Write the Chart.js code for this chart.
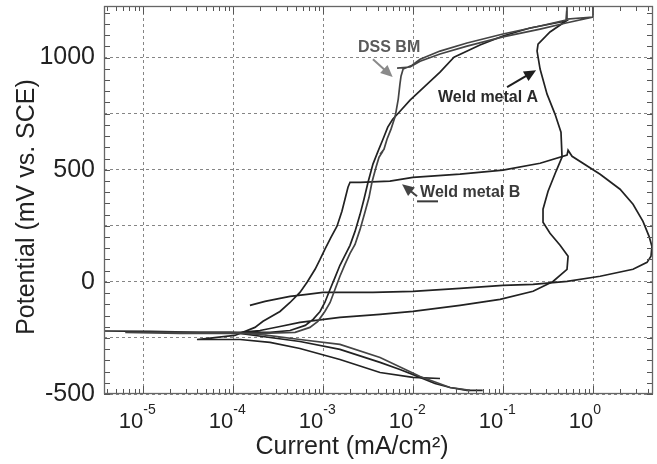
<!DOCTYPE html>
<html>
<head>
<meta charset="utf-8">
<script src="https://cdn.jsdelivr.net/npm/chart.js@4.4.1/dist/chart.umd.min.js"></script>
<style>
  html, body { margin: 0; padding: 0; background: #fff; }
</style>
</head>
<body>
<canvas id="polChart" width="657" height="464"></canvas>
<script>
// values: current in mA/cm², potential in mV vs. SCE
const dssCurrent = [4.27e-2, 2.56e-2, 1.19e-2, 4.27e-3, 1.53e-3, 5.5e-4, 1.98e-4, 9.2e-5, 2.56e-5, 6.3e-6,
  2.56e-5, 9.2e-5, 1.98e-4, 4.86e-4, 7.1e-4, 8.7e-4, 1.04e-3, 1.19e-3, 1.35e-3, 1.53e-3,
  1.74e-3, 1.98e-3, 2.25e-3, 2.56e-3, 2.9e-3, 3.22e-3, 3.47e-3, 3.85e-3, 4.16e-3, 4.6e-3,
  4.27e-3, 4.72e-3, 5.1e-3, 5.65e-3, 6.3e-3, 6.8e-3, 7.1e-3, 7.3e-3, 7.7e-3, 9.7e-3,
  1.19e-2, 1.98e-2, 3.95e-2, 9.9e-2, 0.256, 0.497, 0.51, 0.51, 0.99, 0.99,
  0.99, 0.497, 0.256, 9.9e-2, 3.95e-2, 1.98e-2, 1.19e-2, 9.2e-3, 6.6e-3];
const dssPotential = [-484, -471, -422, -337, -279, -257, -234, -225, -225, -225,
  -230, -230, -230, -225, -203, -176, -132, -92, -33, 25,
  78, 127, 167, 234, 310, 377, 444, 511, 556, 583,
  569, 591, 636, 681, 739, 815, 882, 917, 949, 966,
  993, 1029, 1065, 1105, 1141, 1167, 1225, 1172, 1181, 1240,
  1181, 1154, 1127, 1092, 1051, 1016, 984, 958, 953];

const weldACurrent = [5.9e-2, 3.95e-2, 2.56e-2, 1.74e-2, 1.19e-2, 7.1e-3, 4.27e-3, 1.53e-3, 5.5e-4, 2.56e-4,
  1.19e-4, 4.27e-5, 1.19e-5, 3.75e-6, 1.19e-5, 4.27e-5, 1.19e-4, 2.56e-4, 4.27e-4, 6.3e-4,
  7.7e-4, 9.2e-4, 1.04e-3, 1.19e-3, 1.35e-3, 1.53e-3, 1.74e-3, 1.98e-3, 2.25e-3, 2.56e-3,
  2.83e-3, 3.14e-3, 3.56e-3, 4.06e-3, 4.6e-3, 5.2e-3, 5.9e-3, 6.8e-3, 9.2e-3, 1.35e-2,
  1.98e-2, 2.83e-2, 5.5e-2, 9.9e-2, 0.198, 0.497, 0.33, 0.243, 0.237, 0.256,
  0.306, 0.375, 0.437, 0.449, 0.385, 0.314, 0.276, 0.276, 0.33, 0.427,
  0.524, 0.51, 0.356, 0.214, 9.2e-2, 3.3e-2, 9.9e-3, 4.27e-3, 1.53e-3, 5.5e-4,
  3.3e-4, 1.98e-4, 1.19e-4];
const weldAPotential = [-484, -484, -471, -453, -426, -391, -359, -301, -266, -248,
  -230, -225, -221, -219, -221, -225, -225, -225, -217, -194,
  -167, -132, -92, -33, 20, 74, 118, 163, 225, 301,
  368, 444, 525, 583, 636, 690, 725, 752, 810, 873,
  935, 1002, 1056, 1096, 1132, 1163, 1114, 1060, 1029, 949,
  837, 748, 667, 556, 493, 404, 324, 266, 217, 163,
  114, 56, 2, -42, -78, -105, -132, -145, -158, -181,
  -199, -217, -225];

const weldBCurrent = [1.98e-2, 9.9e-3, 4.27e-3, 1.53e-3, 5.5e-4, 2.56e-4, 1.19e-4, 3.95e-5, 1.04e-4, 1.74e-4,
  2.14e-4, 3.3e-4, 4.27e-4, 5.5e-4, 6.6e-4, 8.1e-4, 9.2e-4, 1.04e-3, 1.22e-3, 1.42e-3,
  1.61e-3, 1.74e-3, 1.88e-3, 1.98e-3, 2.56e-3, 5.5e-3, 9.9e-3, 3.3e-2, 9.9e-2, 0.256,
  0.51, 0.524, 0.58, 1.19, 1.98, 2.76, 3.56, 4.16, 4.48, 4.37,
  3.95, 2.76, 1.19, 0.51, 0.214, 9.9e-2, 3.3e-2, 9.9e-3, 3.56e-3, 9.9e-4,
  6.6e-4, 4.27e-4, 3.3e-4, 2.25e-4, 1.53e-4];
const weldBPotential = [-431, -426, -404, -346, -297, -270, -257, -257, -239, -203,
  -176, -132, -92, -47, -2, 56, 100, 145, 199, 248,
  315, 368, 422, 444, 444, 449, 466, 480, 498, 529,
  565, 587, 560, 480, 413, 346, 270, 203, 158, 114,
  87, 56, 25, 2, -11, -16, -29, -42, -47, -47,
  -56, -65, -74, -87, -105];

const xDecades = [1e-5, 1e-4, 1e-3, 1e-2, 1e-1, 1];
const yGridValues = [-500, -250, 0, 250, 500, 750, 1000];
const yLabelValues = [-500, 0, 500, 1000];

// annotation anchors, in data units
const notes = [
  { text: 'DSS BM', x: 2.43e-3, y: 1024, color: '#5a5a5a' },
  { text: 'Weld metal A', x: 1.88e-2, y: 801, color: '#2a2a2a' },
  { text: 'Weld metal B', x: 1.19e-2, y: 377, color: '#3a3a3a' }
];
const pointers = [
  { from: [3.56e-3, 993], to: [5.9e-3, 913], color: '#8a8a8a' },
  { from: [0.11, 868], to: [0.231, 944], color: '#1e1e1e' },
  { from: [1.1e-2, 382], to: [7.5e-3, 435], color: '#444' }
];
const underline = { from: [1.1e-2, 359], to: [1.88e-2, 359] };

const FONT = "'Liberation Sans', Arial, Helvetica, sans-serif";

const toPoints = (xs, ys) => xs.map((x, i) => ({ x: x, y: ys[i] }));
const lineStyle = { showLine: true, pointRadius: 0, borderWidth: 1.7, fill: false, tension: 0 };

function drawArrow(ctx, x1, y1, x2, y2, color) {
  const ang = Math.atan2(y2 - y1, x2 - x1);
  const len = 12, half = 5.5;
  ctx.strokeStyle = color;
  ctx.fillStyle = color;
  ctx.lineWidth = 2;
  ctx.beginPath();
  ctx.moveTo(x1, y1);
  ctx.lineTo(x2 - Math.cos(ang) * len * 0.7, y2 - Math.sin(ang) * len * 0.7);
  ctx.stroke();
  ctx.beginPath();
  ctx.moveTo(x2, y2);
  ctx.lineTo(x2 - Math.cos(ang) * len + Math.sin(ang) * half, y2 - Math.sin(ang) * len - Math.cos(ang) * half);
  ctx.lineTo(x2 - Math.cos(ang) * len - Math.sin(ang) * half, y2 - Math.sin(ang) * len + Math.cos(ang) * half);
  ctx.closePath();
  ctx.fill();
}

const framePlugin = {
  id: 'frame',
  afterDraw(chart) {
    const ctx = chart.ctx;
    const area = chart.chartArea;
    const xs = chart.scales.x, ys = chart.scales.y;
    ctx.save();

    // inner minor ticks on all four sides
    ctx.strokeStyle = '#555';
    ctx.lineWidth = 1;
    ctx.beginPath();
    for (let v = -500; v <= ys.max; v += 50) {
      const py = Math.round(ys.getPixelForValue(v)) + 0.5;
      ctx.moveTo(area.left, py); ctx.lineTo(area.left + 6, py);
      ctx.moveTo(area.right, py); ctx.lineTo(area.right - 6, py);
    }
    for (let n = -6; n <= 1; n++) {
      for (let k = 1; k <= 9; k++) {
        const v = k * Math.pow(10, n);
        if (v < xs.min || v > xs.max) continue;
        const px = Math.round(xs.getPixelForValue(v)) + 0.5;
        const l = k === 1 ? 8 : 5;
        ctx.moveTo(px, area.bottom); ctx.lineTo(px, area.bottom - l);
        ctx.moveTo(px, area.top); ctx.lineTo(px, area.top + l);
      }
    }
    ctx.stroke();

    // plot frame
    ctx.strokeStyle = '#666';
    ctx.lineWidth = 1.3;
    ctx.strokeRect(area.left + 0.5, area.top + 0.5, area.right - area.left - 1, area.bottom - area.top - 1);

    // x tick labels: 10 with raised exponent
    ctx.fillStyle = '#222';
    xDecades.forEach(v => {
      const px = xs.getPixelForValue(v);
      ctx.font = '22px ' + FONT;
      ctx.textAlign = 'right';
      ctx.textBaseline = 'alphabetic';
      ctx.fillText('10', px, 428);
      ctx.font = '14px ' + FONT;
      ctx.textAlign = 'left';
      ctx.fillText(String(Math.round(Math.log10(v))), px, 414);
    });

    // axis titles
    ctx.font = '25px ' + FONT;
    ctx.textAlign = 'center';
    ctx.textBaseline = 'middle';
    ctx.fillText('Current (mA/cm²)', 352, 447);
    ctx.save();
    ctx.translate(27, 207);
    ctx.rotate(-Math.PI / 2);
    ctx.fillText('Potential (mV vs. SCE)', 0, 0);
    ctx.restore();

    // annotations
    ctx.font = 'bold 16px ' + FONT;
    ctx.textAlign = 'left';
    ctx.textBaseline = 'alphabetic';
    notes.forEach(n => {
      ctx.fillStyle = n.color;
      ctx.fillText(n.text, xs.getPixelForValue(n.x), ys.getPixelForValue(n.y));
    });
    pointers.forEach(p => {
      drawArrow(ctx, xs.getPixelForValue(p.from[0]), ys.getPixelForValue(p.from[1]),
        xs.getPixelForValue(p.to[0]), ys.getPixelForValue(p.to[1]), p.color);
    });
    ctx.strokeStyle = '#3a3a3a';
    ctx.lineWidth = 2;
    ctx.beginPath();
    ctx.moveTo(xs.getPixelForValue(underline.from[0]), ys.getPixelForValue(underline.from[1]));
    ctx.lineTo(xs.getPixelForValue(underline.to[0]), ys.getPixelForValue(underline.to[1]));
    ctx.stroke();

    ctx.restore();
  }
};

const ctx = document.getElementById('polChart').getContext('2d');
new Chart(ctx, {
  type: 'scatter',
  data: {
    datasets: [
      { label: 'DSS BM', data: toPoints(dssCurrent, dssPotential), borderColor: '#444', ...lineStyle },
      { label: 'Weld metal A', data: toPoints(weldACurrent, weldAPotential), borderColor: '#222', ...lineStyle },
      { label: 'Weld metal B', data: toPoints(weldBCurrent, weldBPotential), borderColor: '#222', ...lineStyle }
    ]
  },
  options: {
    responsive: false,
    animation: false,
    layout: { padding: { top: 6, right: 4, left: 0, bottom: 0 } },
    plugins: {
      legend: { display: false },
      tooltip: { enabled: false }
    },
    scales: {
      x: {
        type: 'logarithmic',
        min: 3.66e-6,
        max: 4.6,
        afterBuildTicks: s => { s.ticks = xDecades.map(v => ({ value: v })); },
        afterFit: s => { s.height = 70; s.paddingLeft = 0; s.paddingRight = 0; },
        ticks: { display: false },
        grid: { color: '#858585', lineWidth: 1, drawTicks: false },
        border: { display: false, dash: [3, 3] }
      },
      y: {
        min: -500,
        max: 1230,
        afterBuildTicks: s => { s.ticks = yGridValues.map(v => ({ value: v })); },
        afterFit: s => { s.width = 104; s.paddingTop = 0; s.paddingBottom = 0; },
        ticks: {
          padding: 9,
          color: '#222',
          font: { family: FONT, size: 25 },
          callback: v => yLabelValues.includes(v) ? String(v) : ''
        },
        grid: { color: '#858585', lineWidth: 1, drawTicks: false },
        border: { display: false, dash: [3, 3] }
      }
    }
  },
  plugins: [framePlugin]
});
</script>
</body>
</html>
